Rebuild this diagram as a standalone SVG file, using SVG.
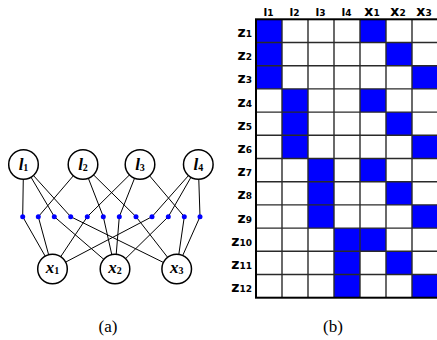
<svg xmlns="http://www.w3.org/2000/svg" width="437" height="340" viewBox="0 0 437 340">
  <style>
    .edge { fill: none; stroke: #000; stroke-width: 1; }
    .node circle { fill: #fff; stroke: #000; stroke-width: 1.5; }
    .node text { font-family: "Liberation Serif", serif; font-style: italic; font-weight: bold; font-size: 17px; text-anchor: middle; }
    .sub { font-size: 10px; font-style: normal; font-weight: bold; }
    .dot { fill: #0000ff; }
    .cap { font-family: "Liberation Serif", serif; font-size: 17px; text-anchor: middle; }
    .hdr { font-family: "DejaVu Sans", sans-serif; font-weight: bold; text-anchor: middle; }
    .row { font-family: "DejaVu Sans", sans-serif; font-weight: bold; text-anchor: end; }
    .on { fill: #0000ff; }
    .grid { stroke: #2a2a2a; stroke-width: 1.4; }
  </style>

  <!-- (a) bipartite graph through the blue junction dots -->
  <g id="connectors">
    <polyline class="edge" points="23.5,164.5 22.7,216.7 52.5,269"/>
    <polyline class="edge" points="83,164.5 38.3,216.7 52.5,269"/>
    <polyline class="edge" points="23.5,164.5 54.3,216.7 115,269"/>
    <polyline class="edge" points="23.5,164.5 70.7,216.7 176.7,269"/>
    <polyline class="edge" points="140,164.5 87.3,216.7 52.5,269"/>
    <polyline class="edge" points="83,164.5 103.3,216.7 115,269"/>
    <polyline class="edge" points="140,164.5 119.3,216.7 115,269"/>
    <polyline class="edge" points="83,164.5 136,216.7 176.7,269"/>
    <polyline class="edge" points="198.3,164.5 152,216.7 52.5,269"/>
    <polyline class="edge" points="198.3,164.5 168.3,216.7 115,269"/>
    <polyline class="edge" points="140,164.5 184.3,216.7 176.7,269"/>
    <polyline class="edge" points="198.3,164.5 200,216.7 176.7,269"/>
  </g>
  <g id="junctions">
    <circle class="dot" cx="22.7" cy="216.7" r="2.5"/>
    <circle class="dot" cx="38.3" cy="216.7" r="2.5"/>
    <circle class="dot" cx="54.3" cy="216.7" r="2.5"/>
    <circle class="dot" cx="70.7" cy="216.7" r="2.5"/>
    <circle class="dot" cx="87.3" cy="216.7" r="2.5"/>
    <circle class="dot" cx="103.3" cy="216.7" r="2.5"/>
    <circle class="dot" cx="119.3" cy="216.7" r="2.5"/>
    <circle class="dot" cx="136" cy="216.7" r="2.5"/>
    <circle class="dot" cx="152" cy="216.7" r="2.5"/>
    <circle class="dot" cx="168.3" cy="216.7" r="2.5"/>
    <circle class="dot" cx="184.3" cy="216.7" r="2.5"/>
    <circle class="dot" cx="200" cy="216.7" r="2.5"/>
  </g>
  <g id="l1" class="node"><circle cx="23.5" cy="164.5" r="14.8"/><text x="23.5" y="170">l<tspan class="sub" dy="0.5">1</tspan></text></g>
  <g id="l2" class="node"><circle cx="83" cy="164.5" r="14.8"/><text x="83" y="170">l<tspan class="sub" dy="0.5">2</tspan></text></g>
  <g id="l3" class="node"><circle cx="140" cy="164.5" r="14.8"/><text x="140" y="170">l<tspan class="sub" dy="0.5">3</tspan></text></g>
  <g id="l4" class="node"><circle cx="198.3" cy="164.5" r="14.8"/><text x="198.3" y="170">l<tspan class="sub" dy="0.5">4</tspan></text></g>
  <g id="x1" class="node"><circle cx="52.5" cy="269" r="14.8"/><text x="52.5" y="273">x<tspan class="sub" dy="1">1</tspan></text></g>
  <g id="x2" class="node"><circle cx="115" cy="269" r="14.8"/><text x="115" y="273">x<tspan class="sub" dy="1">2</tspan></text></g>
  <g id="x3" class="node"><circle cx="176.7" cy="269" r="14.8"/><text x="176.7" y="273">x<tspan class="sub" dy="1">3</tspan></text></g>
  <text class="cap" x="108" y="332">(a)</text>

  <!-- (b) incidence matrix -->
  <g id="matrix">
    <g id="cells">
      <rect class="on" x="256" y="19.3" width="26" height="69.6"/>
      <rect class="on" x="282" y="88.9" width="26" height="69.6"/>
      <rect class="on" x="308" y="158.5" width="26" height="69.6"/>
      <rect class="on" x="334" y="228.1" width="26" height="69.6"/>
      <rect class="on" x="360" y="19.3" width="26" height="23.2"/>
      <rect class="on" x="386" y="42.5" width="26" height="23.2"/>
      <rect class="on" x="412" y="65.7" width="26" height="23.2"/>
      <rect class="on" x="360" y="88.9" width="26" height="23.2"/>
      <rect class="on" x="386" y="112.1" width="26" height="23.2"/>
      <rect class="on" x="412" y="135.3" width="26" height="23.2"/>
      <rect class="on" x="360" y="158.5" width="26" height="23.2"/>
      <rect class="on" x="386" y="181.7" width="26" height="23.2"/>
      <rect class="on" x="412" y="204.9" width="26" height="23.2"/>
      <rect class="on" x="360" y="228.1" width="26" height="23.2"/>
      <rect class="on" x="386" y="251.3" width="26" height="23.2"/>
      <rect class="on" x="412" y="274.5" width="26" height="23.2"/>
    </g>
    <g id="gridlines" class="grid">
      <line x1="282" y1="19.3" x2="282" y2="297.7"/>
      <line x1="308" y1="19.3" x2="308" y2="297.7"/>
      <line x1="334" y1="19.3" x2="334" y2="297.7"/>
      <line x1="360" y1="19.3" x2="360" y2="297.7"/>
      <line x1="386" y1="19.3" x2="386" y2="297.7"/>
      <line x1="412" y1="19.3" x2="412" y2="297.7"/>
      <line x1="438" y1="19.3" x2="438" y2="297.7"/>
      <line x1="256" y1="42.5" x2="438" y2="42.5"/>
      <line x1="256" y1="65.7" x2="438" y2="65.7"/>
      <line x1="256" y1="88.9" x2="438" y2="88.9"/>
      <line x1="256" y1="112.1" x2="438" y2="112.1"/>
      <line x1="256" y1="135.3" x2="438" y2="135.3"/>
      <line x1="256" y1="158.5" x2="438" y2="158.5"/>
      <line x1="256" y1="181.7" x2="438" y2="181.7"/>
      <line x1="256" y1="204.9" x2="438" y2="204.9"/>
      <line x1="256" y1="228.1" x2="438" y2="228.1"/>
      <line x1="256" y1="251.3" x2="438" y2="251.3"/>
      <line x1="256" y1="274.5" x2="438" y2="274.5"/>
    </g>
    <rect x="256" y="19.3" width="182" height="278.4" fill="none" stroke="#000" stroke-width="2"/>
  </g>
  <g id="col-labels">
    <text class="hdr" x="268.5" y="16" font-size="11">l<tspan font-size="9">1</tspan></text>
    <text class="hdr" x="294.5" y="16" font-size="11">l<tspan font-size="9">2</tspan></text>
    <text class="hdr" x="320.5" y="16" font-size="11">l<tspan font-size="9">3</tspan></text>
    <text class="hdr" x="346.5" y="16" font-size="11">l<tspan font-size="9">4</tspan></text>
    <text class="hdr" x="372" y="16" font-size="14">x<tspan font-size="9">1</tspan></text>
    <text class="hdr" x="398" y="16" font-size="14">x<tspan font-size="9">2</tspan></text>
    <text class="hdr" x="424" y="16" font-size="14">x<tspan font-size="9">3</tspan></text>
  </g>
  <g id="row-labels" font-size="14">
    <text class="row" x="252" y="37">z<tspan font-size="9">1</tspan></text>
    <text class="row" x="252" y="60.2">z<tspan font-size="9">2</tspan></text>
    <text class="row" x="252" y="83.4">z<tspan font-size="9">3</tspan></text>
    <text class="row" x="252" y="106.6">z<tspan font-size="9">4</tspan></text>
    <text class="row" x="252" y="129.8">z<tspan font-size="9">5</tspan></text>
    <text class="row" x="252" y="153">z<tspan font-size="9">6</tspan></text>
    <text class="row" x="252" y="176.2">z<tspan font-size="9">7</tspan></text>
    <text class="row" x="252" y="199.4">z<tspan font-size="9">8</tspan></text>
    <text class="row" x="252" y="222.6">z<tspan font-size="9">9</tspan></text>
    <text class="row" x="252" y="245.8">z<tspan font-size="9">10</tspan></text>
    <text class="row" x="252" y="269">z<tspan font-size="9">11</tspan></text>
    <text class="row" x="252" y="292.2">z<tspan font-size="9">12</tspan></text>
  </g>
  <text class="cap" x="333" y="332">(b)</text>
</svg>
